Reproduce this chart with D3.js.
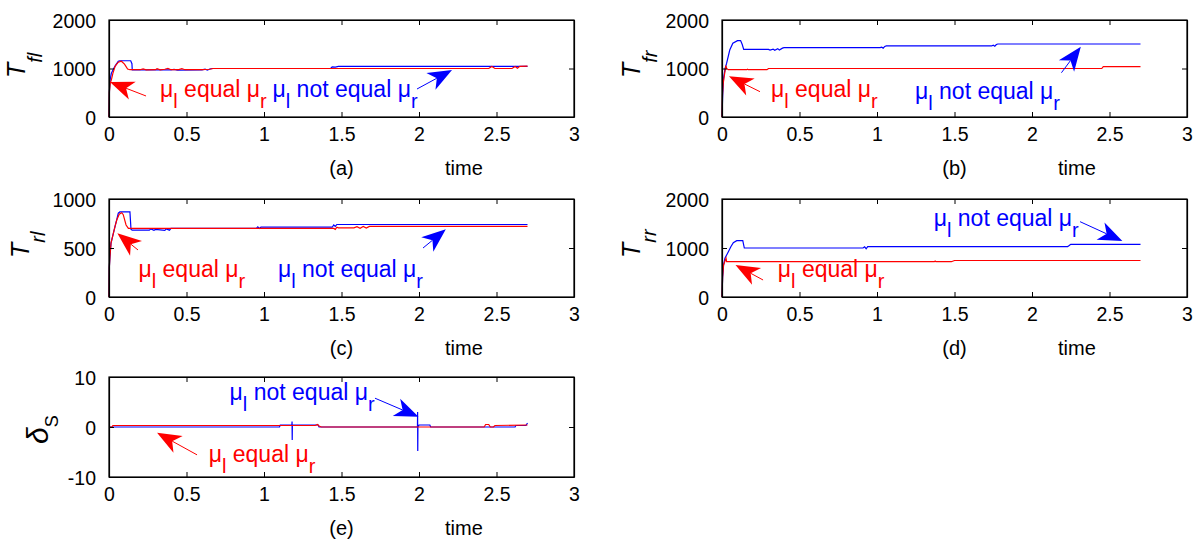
<!DOCTYPE html>
<html><head><meta charset="utf-8">
<script src="https://cdn.jsdelivr.net/npm/d3@7"></script>
<style>
body{margin:0;background:#fff}
text{font-family:"Liberation Sans",Arial,Helvetica,sans-serif}
</style>
</head><body>
<svg id="chart" width="1203" height="545"></svg>
<script>
// ---------- data ----------
const xTicks = [0, 0.5, 1, 1.5, 2, 2.5, 3];
const xTickLabels = ["0", "0.5", "1", "1.5", "2", "2.5", "3"];
const yTicksA = [0, 1000, 2000], yTickLabelsA = ["0", "1000", "2000"];
const yTicksB = [0, 1000, 2000], yTickLabelsB = ["0", "1000", "2000"];
const yTicksC = [0, 500, 1000], yTickLabelsC = ["0", "500", "1000"];
const yTicksD = [0, 1000, 2000], yTickLabelsD = ["0", "1000", "2000"];
const yTicksE = [-10, 0, 10], yTickLabelsE = ["-10", "0", "10"];
const panelNames = ["(a)", "(b)", "(c)", "(d)", "(e)"];
const seriesNames = ["equal", "not equal"];

// (a) T_fl  [time, value]
const tflEqual = [[0,0],[0.002,500],[0.008,700],[0.015,760],[0.025,900],[0.04,1050],[0.06,1130],[0.08,1150],[0.1,1090],[0.12,990],[0.135,975],[0.2,975],[0.22,990],[0.24,972],[0.3,975],[0.31,995],[0.33,972],[0.36,985],[0.38,1000],[0.4,975],[0.45,978],[0.47,995],[0.49,975],[0.55,978],[0.6,975],[0.65,985],[0.67,1000],[2.45,1000],[2.47,1040],[2.49,1000],[2.6,1000],[2.62,1040],[2.635,1005],[2.65,1045],[2.7,1050]];
const tflNotEqual = [[0,0],[0.003,550],[0.008,780],[0.015,900],[0.03,1000],[0.045,1080],[0.06,1150],[0.07,1160],[0.14,1160],[0.148,1100],[0.15,970],[0.4,970],[0.42,980],[0.44,968],[0.6,970],[0.62,985],[0.635,965],[0.65,990],[0.67,1000],[1.43,1000],[1.44,1035],[1.46,1030],[1.48,1045],[2.7,1045]];
// (b) T_fr
const tfrEqual = [[0,0],[0.003,450],[0.008,700],[0.015,850],[0.025,1060],[0.03,1000],[0.04,975],[0.16,975],[0.165,985],[0.17,975],[0.29,975],[0.3,1000],[2.45,1000],[2.46,1040],[2.7,1040]];
const tfrNotEqual = [[0,0],[0.005,500],[0.01,800],[0.02,1000],[0.03,1110],[0.05,1380],[0.07,1520],[0.1,1575],[0.12,1575],[0.13,1500],[0.14,1395],[0.3,1395],[0.31,1380],[0.33,1400],[0.34,1375],[0.36,1410],[0.37,1380],[0.39,1420],[0.4,1430],[1.02,1430],[1.03,1440],[1.04,1420],[1.05,1455],[1.06,1465],[1.74,1465],[1.75,1480],[1.76,1460],[1.77,1495],[1.78,1505],[2.7,1505]];
// (c) T_rl
const trlEqual = [[0,0],[0.002,300],[0.006,410],[0.013,550],[0.028,650],[0.039,720],[0.05,785],[0.066,845],[0.082,860],[0.092,840],[0.11,735],[0.125,700],[1.45,700],[1.46,690],[1.47,712],[1.48,705],[1.58,705],[1.6,718],[1.62,702],[1.64,720],[1.66,704],[1.68,720],[1.7,720],[2.7,720]];
const trlNotEqual = [[0,0],[0.002,300],[0.006,410],[0.013,550],[0.028,650],[0.039,720],[0.05,790],[0.06,855],[0.07,868],[0.135,868],[0.142,690],[0.15,682],[0.26,682],[0.27,695],[0.29,680],[0.3,690],[0.36,680],[0.37,695],[0.39,682],[0.4,700],[0.95,700],[0.96,715],[0.97,700],[0.98,712],[1.44,712],[1.45,735],[1.46,720],[1.47,740],[2.7,740]];
// (d) T_rr
const trrEqual = [[0,0],[0.004,414],[0.01,653],[0.026,790],[0.03,720],[1.37,720],[1.375,735],[1.38,720],[1.48,720],[1.5,745],[2.7,745]];
const trrNotEqual = [[0,0],[0.004,400],[0.01,650],[0.019,790],[0.041,925],[0.057,1027],[0.073,1108],[0.095,1149],[0.134,1149],[0.144,1000],[0.91,1000],[0.92,1025],[0.93,985],[0.94,1030],[0.95,1030],[2.23,1030],[2.24,1050],[2.25,1075],[2.7,1075]];
// (e) delta_S
const dsEqual = [[0,0],[0.02,0],[0.025,0.3],[1.33,0.3],[1.345,0.5],[1.355,0.2],[1.37,0],[2.42,0],[2.43,0.5],[2.45,0.5],[2.46,0],[2.48,0],[2.49,0.3],[2.7,0.4]];
const dsNotEqual = [[0,0],[1.1,0],[1.105,0.4],[1.18,0.4],[1.181,1.1],[1.182,-2.6],[1.183,0.4],[1.35,0.4],[1.355,0],[1.99,0],[1.991,3],[1.992,-4.8],[1.993,0],[2.0,0.4],[2.07,0.4],[2.075,0],[2.62,0],[2.625,0.3],[2.69,0.3],[2.7,0.8]];

// annotations (data coordinates of each panel): text start + arrow tail/tip
const notesA = [{s:0, text:[0.329,412], tail:[0.239,433], tip:[0.006,722]},
                {s:1, text:[1.055,412], tail:[1.987,577], tip:[2.213,969]}];
const notesB = [{s:0, text:[0.316,412], tail:[0.245,522], tip:[0.045,840]},
                {s:1, text:[1.245,371], tail:[2.19,913], tip:[2.315,1449]}];
const notesC = [{s:0, text:[0.19,207], tail:[0.187,480], tip:[0.054,650]},
                {s:1, text:[1.09,207], tail:[2.026,500], tip:[2.173,691]}];
const notesD = [{s:0, text:[0.36,402], tail:[0.265,347], tip:[0.087,653]},
                {s:1, text:[1.366,1459], tail:[2.31,1537], tip:[2.583,1143]}];
const notesE = [{s:0, text:[0.643,-7.08], tail:[0.568,-5.57], tip:[0.31,-1.16]},
                {s:1, text:[0.778,5.5], tail:[1.716,5.76], tip:[1.997,2.04]}];

// ---------- layout ----------
const colors = ["#ff0000", "#0000ff"];
const W = 465;
const panels = [
  {left:109, top:20,  h:97,  dom:[0,2000], ticks:yTicksA, labels:yTickLabelsA, eq:tflEqual, ne:tflNotEqual, notes:notesA, ym:"T", ys:"fl", yl:-84, ystart:58, sdy:17, mfs:25, sfs:20, sitalic:true},
  {left:722, top:20,  h:97,  dom:[0,2000], ticks:yTicksB, labels:yTickLabelsB, eq:tfrEqual, ne:tfrNotEqual, notes:notesB, ym:"T", ys:"fr", yl:-82, ystart:58, sdy:17, mfs:25, sfs:20, sitalic:true},
  {left:109, top:199, h:98,  dom:[0,1000], ticks:yTicksC, labels:yTickLabelsC, eq:trlEqual, ne:trlNotEqual, notes:notesC, ym:"T", ys:"rl", yl:-80, ystart:59, sdy:16, mfs:25, sfs:20, sitalic:true},
  {left:722, top:199, h:98,  dom:[0,2000], ticks:yTicksD, labels:yTickLabelsD, eq:trrEqual, ne:trrNotEqual, notes:notesD, ym:"T", ys:"rr", yl:-82, ystart:59, sdy:16, mfs:25, sfs:20, sitalic:true},
  {left:109, top:377, h:100, dom:[-10,10], ticks:yTicksE, labels:yTickLabelsE, eq:dsEqual, ne:dsNotEqual, notes:notesE, ym:"δ", ys:"S", yl:-61, ystart:67, sdy:10, mfs:30, sfs:18, sitalic:false}
];

const svg = d3.select("#chart");
svg.append("rect").attr("width",1203).attr("height",545).attr("fill","#fff");

function drawArrow(g, x1, y1, x2, y2, color) {
  const L = 24, HW = 9.5, notch = 0.72;
  const dx = x2 - x1, dy = y2 - y1, len = Math.hypot(dx, dy);
  const ux = dx/len, uy = dy/len, px = -uy, py = ux;
  const bx = x2 - ux*L, by = y2 - uy*L;
  const nx = x2 - ux*L*notch, ny = y2 - uy*L*notch;
  g.append("line").attr("x1",x1).attr("y1",y1).attr("x2",nx).attr("y2",ny)
    .attr("stroke",color).attr("stroke-width",1);
  g.append("path")
    .attr("d",`M${x2},${y2}L${bx+px*HW},${by+py*HW}L${nx},${ny}L${bx-px*HW},${by-py*HW}Z`)
    .attr("fill",color);
}

function mathText(g, x, y, color, words) {
  const t = g.append("text").attr("x",x).attr("y",y).attr("fill",color).attr("font-size",23);
  t.append("tspan").text("μ");
  t.append("tspan").attr("font-size",20).attr("dy",11).text("l");
  t.append("tspan").attr("dy",-11).text(" " + words + " μ");
  t.append("tspan").attr("font-size",20).attr("dy",11).text("r");
}

panels.forEach((p, i) => {
  const x = d3.scaleLinear().domain([0,3]).range([p.left, p.left + W]);
  const y = d3.scaleLinear().domain(p.dom).range([p.top + p.h, p.top]);
  const g = svg.append("g");

  const line = d3.line().x(d => x(d[0])).y(d => y(d[1]));
  g.append("path").datum(p.ne).attr("d", line).attr("fill","none")
    .attr("stroke", colors[1]).attr("stroke-width",1.2);
  g.append("path").datum(p.eq).attr("d", line).attr("fill","none")
    .attr("stroke", colors[0]).attr("stroke-width",1.2);

  const tk = 5;
  const axB = d3.axisBottom(x).tickValues(xTicks).tickFormat((d,j)=>xTickLabels[j]).tickSizeInner(-tk).tickSizeOuter(0).tickPadding(10);
  const axT = d3.axisTop(x).tickValues(xTicks).tickFormat("").tickSizeInner(-tk).tickSizeOuter(0);
  const axL = d3.axisLeft(y).tickValues(p.ticks).tickFormat((d,j)=>p.labels[j]).tickSizeInner(-tk).tickSizeOuter(0).tickPadding(13);
  const axR = d3.axisRight(y).tickValues(p.ticks).tickFormat("").tickSizeInner(-tk).tickSizeOuter(0);
  const gb = g.append("g").attr("transform",`translate(0,${p.top+p.h})`).call(axB);
  const gt = g.append("g").attr("transform",`translate(0,${p.top})`).call(axT);
  const gl = g.append("g").attr("transform",`translate(${p.left},0)`).call(axL);
  const gr = g.append("g").attr("transform",`translate(${p.left+W},0)`).call(axR);
  [gb,gt,gl,gr].forEach(a => {
    a.selectAll("path").attr("stroke","#000").attr("stroke-width",1.2);
    a.selectAll("line").attr("stroke","#000").attr("stroke-width",1);
    a.selectAll("text").attr("fill","#000").attr("font-size",19.5)
      .style("font-family",'"Liberation Sans",Arial,sans-serif');
  });
  gb.selectAll("text").attr("dy","0.71em").attr("y", 10);
  gl.selectAll("text").attr("dy","0.36em");
  g.append("rect").attr("x",p.left).attr("y",p.top).attr("width",W).attr("height",p.h)
    .attr("fill","none").attr("stroke","#000").attr("stroke-width",1.2);

  g.append("text").attr("x", x(1.5)).attr("y", p.top + p.h + 58).attr("text-anchor","middle")
    .attr("font-size",20).text(panelNames[i]);
  g.append("text").attr("x", x(2.29)).attr("y", p.top + p.h + 58).attr("text-anchor","middle")
    .attr("font-size",20).text("time");

  const yl = g.append("text")
    .attr("transform",`translate(${p.left + p.yl},${p.top + p.ystart}) rotate(-90)`)
    .attr("font-size",p.mfs);
  yl.append("tspan").attr("font-style","italic").text(p.ym);
  yl.append("tspan").attr("font-size", p.sfs).attr("dy", p.sdy)
    .attr("font-style", p.sitalic ? "italic" : "normal").text(p.ys);

  p.notes.forEach(n => {
    const c = colors[n.s];
    drawArrow(g, x(n.tail[0]), y(n.tail[1]), x(n.tip[0]), y(n.tip[1]), c);
    mathText(g, x(n.text[0]), y(n.text[1]), c, seriesNames[n.s]);
  });
});
</script>
</body></html>
